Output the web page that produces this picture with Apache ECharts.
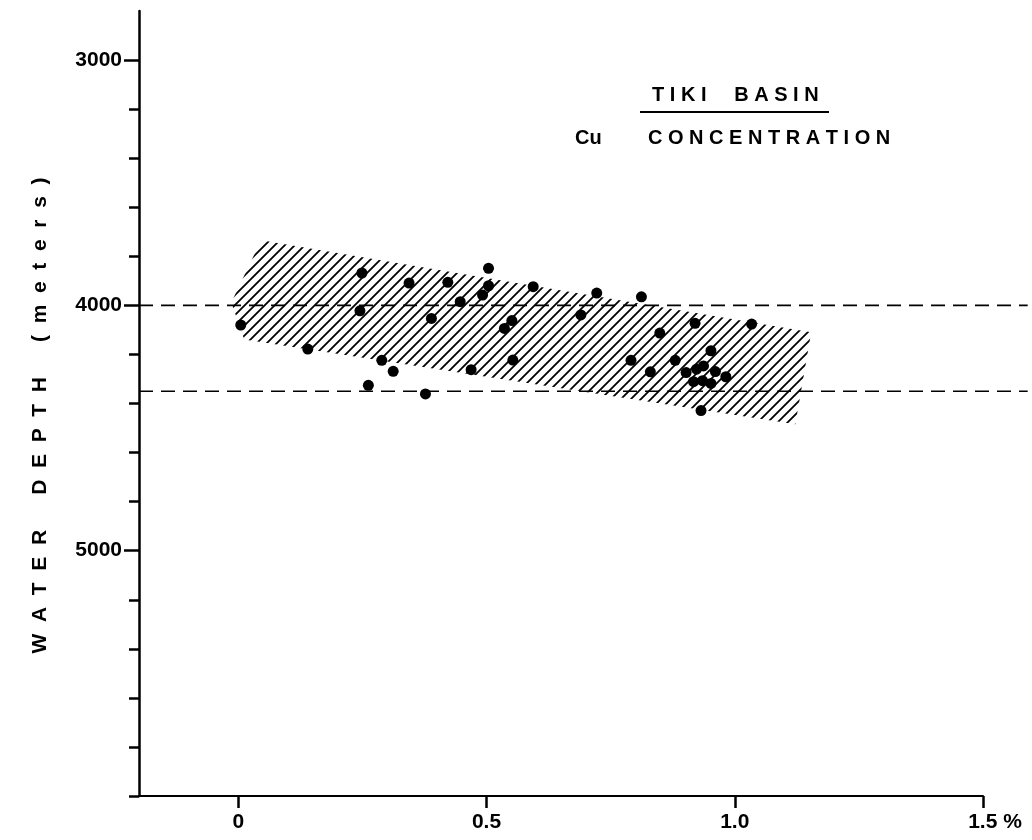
<!DOCTYPE html>
<html>
<head>
<meta charset="utf-8">
<script src="https://cdn.jsdelivr.net/npm/echarts@6/dist/echarts.min.js"></script>
<style>
  html, body { margin: 0; padding: 0; background: #fff; }
  #chart { width: 1032px; height: 840px; }
</style>
</head>
<body>
<div id="chart"></div>
<script>
// Cu concentration (%) against water depth (m), Tiki Basin samples
const cuPct = [
  0.005, 0.140, 0.245, 0.249, 0.262, 0.289, 0.312, 0.344, 0.377, 0.389,
  0.422, 0.447, 0.469, 0.492, 0.504, 0.504, 0.536, 0.551, 0.553, 0.594,
  0.690, 0.722, 0.791, 0.812, 0.830, 0.849, 0.880, 0.902, 0.917, 0.920,
  0.923, 0.932, 0.935, 0.937, 0.952, 0.952, 0.961, 0.982, 1.034
];
const depthM = [
  4080, 4178, 4022, 3868, 4326, 4224, 4269, 3909, 4361, 4053,
  3906, 3985, 4262, 3958, 3920, 3849, 4094, 4062, 4223, 3924,
  4039, 3950, 4224, 3965, 4271, 4113, 4224, 4274, 4311, 4073,
  4260, 4429, 4307, 4247, 4318, 4185, 4270, 4291, 4076
];

// outline of the hatched trend band
const bandCu    = [0.046, 1.154, 1.122, 0.012, -0.014];
const bandDepth = [3735, 4110, 4485, 4139, 3988];

// dashed reference depths, drawn a little past the end of the Cu axis
const refDepths = [4000, 4350];
const refCuRange = [-0.2, 1.59];

// axis ticks and labels
const cuTicks = [0, 0.5, 1.0, 1.5];
const cuTickLabels = ['0', '0.5', '1.0', '1.5 %'];
const depthMajor = [3000, 4000, 5000];
const depthMinor = [3200, 3400, 3600, 3800, 4200, 4400, 4600, 4800, 5200, 5400, 5600, 5800, 6000];

const FONT = '"Liberation Sans", Arial, sans-serif';

// diagonal hatch tile
function makeHatch() {
  const s = 10;
  const c = document.createElement('canvas');
  c.width = s; c.height = s;
  const g = c.getContext('2d');
  g.strokeStyle = '#000';
  g.lineWidth = 1.8;
  g.beginPath();
  g.moveTo(0, s); g.lineTo(s, 0);
  g.moveTo(-s / 2, s / 2); g.lineTo(s / 2, -s / 2);
  g.moveTo(s / 2, s * 1.5); g.lineTo(s * 1.5, s / 2);
  g.stroke();
  return c;
}
const hatch = makeHatch();

const chart = echarts.init(document.getElementById('chart'), null, { renderer: 'canvas' });

// main plot area: x from -0.2 to 1.5 over 844 px;
// second area shares the same scale but runs to the right edge of the page
const PLOT = { left: 139, top: 11, bottom: 44 };
const mainRight = 49;
const wideRight = 0;
const pxPerUnit = (1032 - PLOT.left - mainRight) / (1.5 - (-0.2));
const wideMax = -0.2 + (1032 - PLOT.left - wideRight) / pxPerUnit;

const refSeries = refDepths.map(d => ({
  type: 'line',
  xAxisIndex: 1,
  yAxisIndex: 2,
  data: refCuRange.map(x => [x, d]),
  symbol: 'none',
  silent: true,
  z: 3,
  lineStyle: { color: '#000', width: 1.6, type: [14, 8] }
}));

chart.setOption({
  backgroundColor: '#fff',
  animation: false,
  grid: [
    { left: PLOT.left, right: mainRight, top: PLOT.top, bottom: PLOT.bottom },
    { left: PLOT.left, right: wideRight, top: PLOT.top, bottom: PLOT.bottom }
  ],
  xAxis: [
    {
      type: 'value',
      gridIndex: 0,
      min: -0.2,
      max: 1.5,
      splitLine: { show: false },
      axisLine: { show: true, onZero: false, lineStyle: { color: '#000', width: 2 } },
      axisTick: { show: true, customValues: cuTicks, length: 12, lineStyle: { color: '#000', width: 2.5 } },
      axisLabel: {
        customValues: cuTicks,
        margin: 16,
        color: '#000',
        fontFamily: FONT,
        fontWeight: 'bold',
        fontSize: 21,
        formatter: v => {
          const i = cuTicks.findIndex(t => Math.abs(t - v) < 1e-9);
          const s = i >= 0 ? cuTickLabels[i] : '';
          return s.indexOf('%') >= 0 ? '{pad|}' + s : s;
        },
        rich: { pad: { width: 24 } }
      }
    },
    {
      type: 'value',
      gridIndex: 1,
      min: -0.2,
      max: wideMax,
      show: false,
      splitLine: { show: false }
    }
  ],
  yAxis: [
    {
      type: 'value',
      gridIndex: 0,
      inverse: true,
      min: 2800,
      max: 6000,
      position: 'left',
      splitLine: { show: false },
      axisLine: { show: true, onZero: false, lineStyle: { color: '#000', width: 2.5 } },
      axisTick: { show: true, customValues: depthMajor, length: 15, lineStyle: { color: '#000', width: 2.5 } },
      axisLabel: {
        customValues: depthMajor,
        margin: 17,
        color: '#000',
        fontFamily: FONT,
        fontWeight: 'bold',
        fontSize: 21,
        formatter: v => String(v)
      },
      name: 'W  A  T  E  R      D  E  P  T  H      (  m  e  t  e  r  s  )',
      nameLocation: 'middle',
      nameGap: 88,
      nameTextStyle: {
        color: '#000', fontFamily: FONT, fontWeight: 'bold', fontSize: 21,
        padding: [0, 24, 0, 0]
      }
    },
    {
      type: 'value',
      gridIndex: 0,
      inverse: true,
      min: 2800,
      max: 6000,
      position: 'left',
      splitLine: { show: false },
      axisLine: { show: false, onZero: false },
      axisTick: { show: true, customValues: depthMinor, length: 10, lineStyle: { color: '#000', width: 2.5 } },
      axisLabel: { show: false }
    },
    {
      type: 'value',
      gridIndex: 1,
      inverse: true,
      min: 2800,
      max: 6000,
      show: false,
      splitLine: { show: false }
    }
  ],
  graphic: [
    {
      type: 'text', left: 652, top: 85,
      style: { text: 'T I K I     B A S I N', fill: '#000', font: 'bold 20px ' + FONT }
    },
    {
      type: 'line', shape: { x1: 640, y1: 112, x2: 829, y2: 112 },
      style: { stroke: '#000', lineWidth: 2 }
    },
    {
      type: 'text', left: 575, top: 128,
      style: { text: 'Cu', fill: '#000', font: 'bold 20px ' + FONT }
    },
    {
      type: 'text', left: 648, top: 128,
      style: { text: 'C O N C E N T R A T I O N', fill: '#000', font: 'bold 20px ' + FONT }
    }
  ],
  series: [
    {
      type: 'custom',
      xAxisIndex: 0,
      yAxisIndex: 0,
      silent: true,
      z: 1,
      data: bandCu.map((x, i) => [x, bandDepth[i]]),
      renderItem: (params, api) => {
        if (params.dataIndex !== 0) return null;
        const pts = bandCu.map((x, i) => api.coord([x, bandDepth[i]]));
        return {
          type: 'polygon',
          shape: { points: pts },
          style: { fill: { image: hatch, repeat: 'repeat' }, stroke: null }
        };
      }
    },
    ...refSeries,
    {
      type: 'scatter',
      xAxisIndex: 0,
      yAxisIndex: 0,
      z: 5,
      symbol: 'circle',
      symbolSize: 11,
      itemStyle: { color: '#000', opacity: 1 },
      data: cuPct.map((x, i) => [x, depthM[i]])
    }
  ]
});
</script>
</body>
</html>
